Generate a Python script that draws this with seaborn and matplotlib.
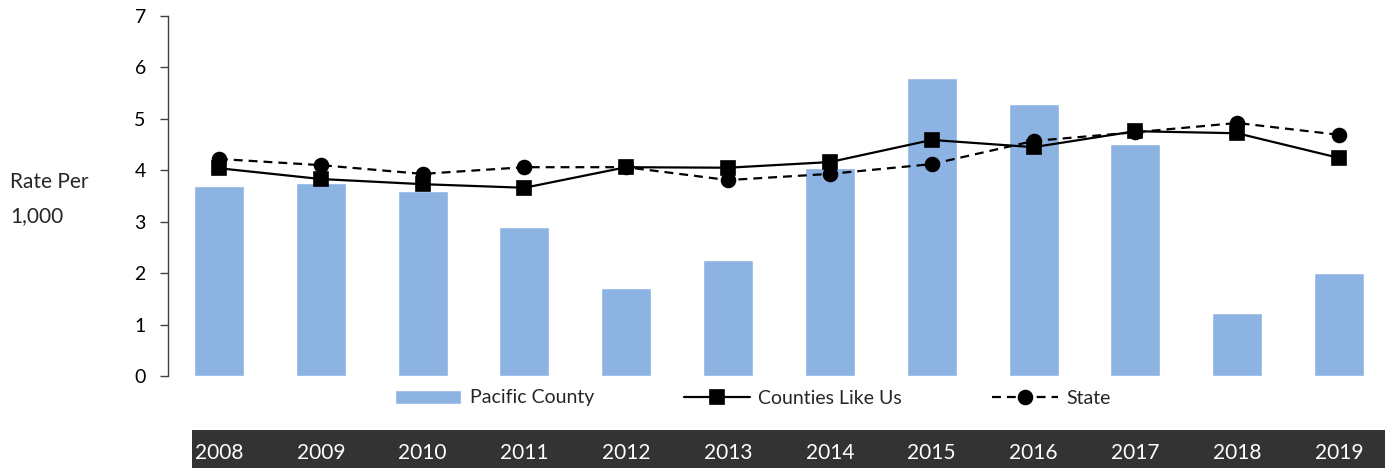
import matplotlib
matplotlib.use("Agg")
import matplotlib.pyplot as plt
from matplotlib.patches import Rectangle
import seaborn as sns
import pandas as pd

years = ["2008", "2009", "2010", "2011", "2012", "2013", "2014", "2015", "2016", "2017", "2018", "2019"]
pacific_county = [3.70, 3.75, 3.60, 2.90, 1.71, 2.26, 4.04, 5.79, 5.29, 4.51, 1.22, 2.00]
counties_like_us = [4.04, 3.83, 3.73, 3.66, 4.06, 4.05, 4.16, 4.59, 4.45, 4.76, 4.72, 4.24]
state = [4.22, 4.10, 3.93, 4.06, 4.06, 3.81, 3.93, 4.12, 4.57, 4.74, 4.92, 4.69]

sns.set_theme(style="white")
plt.rcParams["font.family"] = ["Lato", "DejaVu Sans"]

df = pd.DataFrame({"Year": years, "Pacific": pacific_county,
                   "Counties": counties_like_us, "State": state})

W, H = 1385, 468
fig = plt.figure(figsize=(W / 100, H / 100), dpi=100)

# dark band behind the year labels
fig.patches.append(Rectangle((192 / W, 0), 1 - 192 / W, 38 / H,
                             transform=fig.transFigure, facecolor="#333333",
                             edgecolor="none", zorder=-5))

ax = fig.add_axes([168 / W, 1 - 376 / H, 1222 / W, 360 / H])
ax.patch.set_visible(False)

bar_color = "#8DB3E2"
sns.barplot(data=df, x="Year", y="Pacific", color=bar_color, width=0.49,
            saturation=1, ax=ax, label="Pacific County")
sns.pointplot(data=df, x="Year", y="Counties", color="black", markers="s",
              linestyles="-", errorbar=None, ax=ax, label="Counties Like Us",
              markersize=10.5, linewidth=1.6)
sns.pointplot(data=df, x="Year", y="State", color="black", markers="o",
              linestyles="--", errorbar=None, ax=ax, label="State",
              markersize=10, linewidth=1.6)

for ln in ax.lines:
    if ln.get_linestyle() == "--":
        ln.set_dashes([4, 2.7])

ax.set_xlim(-0.5, 11.5)
ax.set_ylim(0, 7)
ax.set_yticks(range(0, 8))
ax.set_xlabel("")
ax.set_ylabel("")
for s in ["top", "right", "bottom"]:
    ax.spines[s].set_visible(False)
ax.spines["left"].set_color("#404040")
ax.spines["left"].set_linewidth(1.0)
ax.tick_params(axis="y", which="both", left=True, direction="out", length=6,
               width=1, color="#404040", labelsize=14, pad=10, labelcolor="black")
ax.tick_params(axis="x", bottom=False, labelsize=15, labelcolor="white", pad=42)

fig.text(10 / W, 1 - 199 / H, "Rate Per\n1,000", ha="left", va="center",
         fontsize=15, linespacing=1.9)

handles, labels = ax.get_legend_handles_labels()
order = [labels.index(n) for n in ["Pacific County", "Counties Like Us", "State"]]
leg = ax.legend([handles[i] for i in order], [labels[i] for i in order],
                loc="center", bbox_to_anchor=(753 / W, 1 - 398 / H),
                bbox_transform=fig.transFigure, ncol=3, frameon=False, fontsize=14,
                handlelength=3.4, columnspacing=4.6, handletextpad=0.45)
for h in leg.get_lines():
    if h.get_linestyle() == "--":
        h.set_dashes([4, 2.7])

fig.savefig("out.png", dpi=100)
